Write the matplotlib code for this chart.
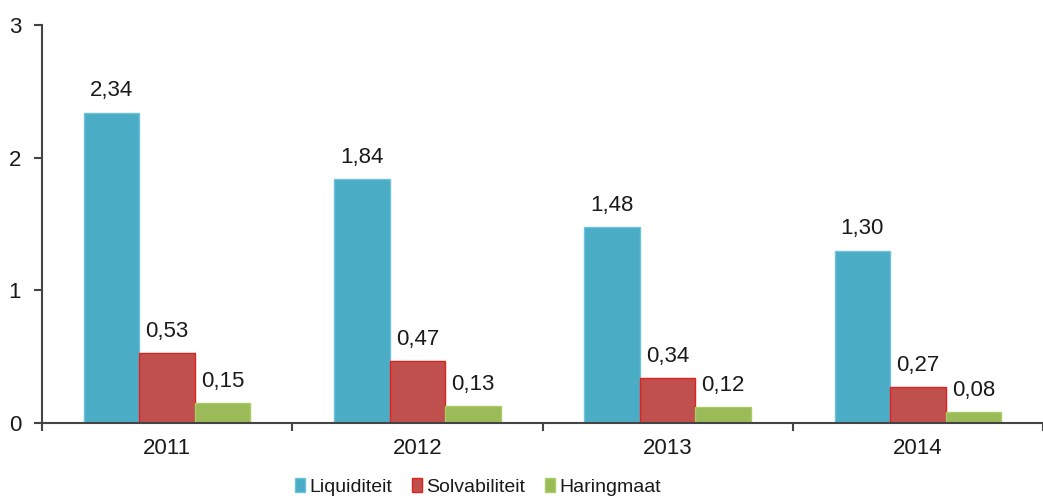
import matplotlib

matplotlib.use("Agg")
import matplotlib.pyplot as plt
import numpy as np

plt.rcParams["font.family"] = ["Liberation Sans", "DejaVu Sans"]

years = ["2011", "2012", "2013", "2014"]
series_names = ["Liquiditeit", "Solvabiliteit", "Haringmaat"]
liquiditeit = [2.34, 1.84, 1.48, 1.30]
solvabiliteit = [0.53, 0.47, 0.34, 0.27]
haringmaat = [0.15, 0.13, 0.12, 0.08]
y_ticks = [0, 1, 2, 3]

colors = ["#4BACC6", "#C0504D", "#9BBB59"]
edges = ["#6EC3DA", "#E0211E", "#A9CC66"]


def fmt(value):
    return f"{value:.2f}".replace(".", ",")


fig = plt.figure(figsize=(10.43, 4.98), dpi=100)
ax = fig.add_axes([42 / 1043, 75 / 498, 1 - 42 / 1043, 398 / 498])

x = np.arange(len(years))
width = 0.222
for i, (name, values) in enumerate(zip(series_names, [liquiditeit, solvabiliteit, haringmaat])):
    pos = x + (i - 1) * width
    ax.bar(pos, values, width, color=colors[i], edgecolor=edges[i], linewidth=1.0, label=name)
    for px, v in zip(pos, values):
        ax.annotate(fmt(v), (px, v), xytext=(0, 8), textcoords="offset points",
                    ha="center", va="bottom", fontsize=16, color="#1a1a1a")

# axis runs off the right edge of the picture, as in the original
ax.set_xlim(-0.5, 1001 / 252.5 - 0.5)
ax.set_ylim(0, 3)
ax.set_yticks(y_ticks)
ax.set_yticklabels([str(t) for t in y_ticks])
ax.set_xticks(x)
ax.set_xticklabels(years)
ax.set_xticks(np.arange(-0.5, 4, 1), minor=True)
ax.tick_params(axis="x", which="major", length=0, pad=11, labelsize=16, labelcolor="#1a1a1a")
ax.tick_params(axis="x", which="minor", length=6, width=1.5, color="#444444", direction="out")
ax.tick_params(axis="y", length=6, width=1.5, color="#444444", pad=9, labelsize=16, labelcolor="#1a1a1a")
for side in ("top", "right"):
    ax.spines[side].set_visible(False)
for side in ("left", "bottom"):
    ax.spines[side].set_color("#444444")
    ax.spines[side].set_linewidth(1.5)

fig.legend(loc="center", bbox_to_anchor=(478 / 1043, 1 - 487 / 498), ncol=3, frameon=False,
           fontsize=14, handlelength=0.5, handleheight=0.7,
           handletextpad=0.25, columnspacing=1.0, borderaxespad=0, labelcolor="#1a1a1a")

fig.savefig("out.png", dpi=100)
